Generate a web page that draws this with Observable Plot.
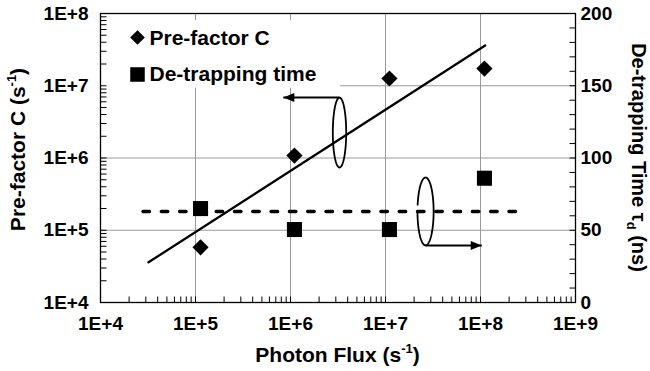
<!DOCTYPE html>
<html>
<head>
<meta charset="utf-8">
<script src="https://cdn.jsdelivr.net/npm/d3@7"></script>
<script src="https://cdn.jsdelivr.net/npm/@observablehq/plot@0.6"></script>
<style>
  html, body { margin: 0; padding: 0; background: #fff; }
</style>
</head>
<body>
<div id="chart"></div>
<script>
// ---------------- data ----------------
const photonFlux   = [1.13e5, 1.1e6, 1.1e7, 1.1e8];     // s^-1
const preFactorC   = [5.8e4, 1.08e6, 1.26e7, 1.73e7];   // s^-1 (left axis)
const detrapTime   = [65, 50.5, 50.5, 86];              // ns (right axis)

const fitFlux      = [3.2e4, 1.12e8];                   // power-law fit of C
const fitC         = [3.6e4, 3.6e7];
const meanFlux     = [2.8e4, 2.8e8];                    // mean de-trapping time
const meanTau      = 63;

const xTicks       = [1e4, 1e5, 1e6, 1e7, 1e8, 1e9];
const xTickLabels  = ["1E+4", "1E+5", "1E+6", "1E+7", "1E+8", "1E+9"];
const yTicks       = [1e4, 1e5, 1e6, 1e7, 1e8];
const yTickLabels  = ["1E+4", "1E+5", "1E+6", "1E+7", "1E+8"];
const tauTicks     = [0, 50, 100, 150, 200];
const tauTickLabels = ["0", "50", "100", "150", "200"];

const legendLabels = ["Pre-factor C", "De-trapping time"];

// right axis (0..200 ns) shares the frame with the left log axis (1E+4..1E+8)
const tauToY = v => Math.pow(10, 4 + v / 50);

// annotation rings (centre in data units, radii in decades) and arrows
const rings = [
  {id: "c", cx: 3.28e6, cy: 2.25e6, rx: 0.0705, ry: 0.484, gapFrom: 0, gapTo: 0},
  {id: "t", cx: 2.64e7, cy: tauToY(meanTau), rx: 0.085, ry: 0.47, gapFrom: Math.PI - 0.2, gapTo: Math.PI + 0.03}
];
const arrows = [
  {ring: 0, side: 1,  toX: 8.4e5,  head: "left"},
  {ring: 1, side: -1, toX: 1.03e8, head: "right"}
];

// ---------------- derived tables ----------------
const points = photonFlux.map((x, i) => ({x, c: preFactorC[i], tau: detrapTime[i]}));
const fit = fitFlux.map((x, i) => ({x, y: fitC[i]}));
const mean = meanFlux.map(x => ({x, y: tauToY(meanTau)}));

const ringPts = [];
rings.forEach(r => {
  const full = r.gapTo === r.gapFrom;
  const t0 = full ? 0 : r.gapTo, t1 = full ? 2 * Math.PI : r.gapFrom + 2 * Math.PI;
  const n = 90;
  for (let i = 0; i <= n; i++) {
    const t = t0 + (t1 - t0) * i / n;
    ringPts.push({id: r.id,
      x: Math.pow(10, Math.log10(r.cx) + r.rx * Math.cos(t)),
      y: Math.pow(10, Math.log10(r.cy) + r.ry * Math.sin(t))});
  }
});
const arrowLinks = arrows.map(a => {
  const r = rings[a.ring];
  const y = Math.pow(10, Math.log10(r.cy) + a.side * r.ry);
  return {x1: r.cx, x2: a.toX, y, head: a.head};
});

const xMinor = d3.scaleLog().domain([1e4, 1e9]).ticks();
const yMinor = d3.scaleLog().domain([1e4, 1e8]).ticks();
const tauMinor = d3.range(0, 201, 10);

// custom symbols (pixel-sized)
const tickUp    = {draw(ctx) { ctx.moveTo(0, 0); ctx.lineTo(0, -6); }};
const tickRight = {draw(ctx) { ctx.moveTo(0, 0); ctx.lineTo(6, 0); }};
const tickLeft  = {draw(ctx) { ctx.moveTo(0, 0); ctx.lineTo(-6, 0); }};
const headLeft  = {draw(ctx) { ctx.moveTo(0, 0); ctx.lineTo(11, -4.5); ctx.lineTo(11, 4.5); ctx.closePath(); }};
const headRight = {draw(ctx) { ctx.moveTo(0, 0); ctx.lineTo(-11, -4.5); ctx.lineTo(-11, 4.5); ctx.closePath(); }};

const FONT = "'Liberation Sans', Arial, Helvetica, sans-serif";
const GRID = "#9a9a9a";

const chart = Plot.plot({
  width: 650,
  height: 371,
  marginLeft: 100,
  marginRight: 75,
  marginTop: 13,
  marginBottom: 69,
  style: {fontFamily: FONT, background: "#fff", color: "#000"},
  x: {type: "log", domain: [1e4, 1e9], axis: null},
  y: {type: "log", domain: [1e4, 1e8], axis: null},
  marks: [
    // grid
    Plot.ruleX(xTicks.slice(1, -1), {stroke: GRID, strokeWidth: 1}),
    Plot.ruleY(yTicks.slice(1, -1), {stroke: GRID, strokeWidth: 1}),
    // legend background
    Plot.rect([{x1: 1.03e4, x2: 3.36e6, y1: 9.2e6, y2: 8.0e7}], {x1: "x1", x2: "x2", y1: "y1", y2: "y2", fill: "#fff"}),
    // fit lines
    Plot.line(mean, {x: "x", y: "y", stroke: "#000", strokeWidth: 3.4, strokeDasharray: "6.5,11.8"}),
    // annotation rings + arrows
    Plot.line(ringPts, {x: "x", y: "y", z: "id", stroke: "#000", strokeWidth: 1.8, curve: "linear"}),
    Plot.line(fit, {x: "x", y: "y", stroke: "#000", strokeWidth: 2.3}),
    Plot.link(arrowLinks, {x1: "x1", x2: "x2", y1: "y", y2: "y", stroke: "#000", strokeWidth: 2}),
    Plot.dot(arrowLinks, {x: "x2", y: "y", symbol: d => d.head === "left" ? headLeft : headRight, r: 5, fill: "#000", stroke: "none"}),
    // data
    Plot.dot(points, {x: "x", y: "c", symbol: "diamond2", r: 7.3, fill: "#000"}),
    Plot.dot(points, {x: "x", y: d => tauToY(d.tau), symbol: "square", r: 8.5, fill: "#000"}),
    // frame
    Plot.frame({stroke: "#000", strokeWidth: 1.3}),
    // ticks
    Plot.dot(xMinor, {x: d => d, frameAnchor: "bottom", symbol: tickUp, r: 3, stroke: "#000", fill: "none", strokeWidth: 1}),
    Plot.dot(yMinor, {y: d => d, frameAnchor: "left", symbol: tickRight, r: 3, stroke: "#000", fill: "none", strokeWidth: 1}),
    Plot.dot(tauMinor, {y: d => tauToY(d), frameAnchor: "right", symbol: tickLeft, r: 3, stroke: "#000", fill: "none", strokeWidth: 1}),
    // tick labels
    Plot.text(xTicks, {x: d => d, text: (d, i) => xTickLabels[i], frameAnchor: "bottom", dy: 21, fontSize: 19, fontWeight: "bold", fill: "#000", lineAnchor: "middle"}),
    Plot.text(yTicks, {y: d => d, text: (d, i) => yTickLabels[i], frameAnchor: "left", dx: -12, textAnchor: "end", fontSize: 19, fontWeight: "bold", fill: "#000", lineAnchor: "middle"}),
    Plot.text(tauTicks, {y: d => tauToY(d), text: (d, i) => tauTickLabels[i], frameAnchor: "right", dx: 5, textAnchor: "start", fontSize: 19, fontWeight: "bold", fill: "#000", lineAnchor: "middle"}),
    // legend
    Plot.dot([0], {frameAnchor: "top-left", dx: 37, dy: 24, symbol: "diamond2", r: 6.6, fill: "#000"}),
    Plot.dot([0], {frameAnchor: "top-left", dx: 37, dy: 61, symbol: "square", r: 8.2, fill: "#000"}),
    Plot.text([legendLabels[0]], {frameAnchor: "top-left", dx: 49, dy: 25, text: d => d, textAnchor: "start", fontSize: 21, fontWeight: "bold", fill: "#000", lineAnchor: "middle"}),
    Plot.text([legendLabels[1]], {frameAnchor: "top-left", dx: 49, dy: 61, text: d => d, textAnchor: "start", fontSize: 21, fontWeight: "bold", fill: "#000", lineAnchor: "middle"})
  ]
});

document.getElementById("chart").appendChild(chart);

// axis titles with super/subscripts
const xs = chart.scale("x").range, ys = chart.scale("y").range;
const cx = (xs[0] + xs[1]) / 2, cy = (ys[0] + ys[1]) / 2;
const svg = d3.select(chart);
const g = svg.append("g").attr("font-family", FONT).attr("font-weight", "bold").attr("fill", "#000");

const xt = g.append("text").attr("x", cx).attr("y", 362).attr("text-anchor", "middle").attr("font-size", 21);
xt.append("tspan").text("Photon Flux (s");
xt.append("tspan").attr("font-size", 13).attr("dy", -9).text("-1");
xt.append("tspan").attr("dy", 9).text(")");

const yl = g.append("text").attr("transform", `translate(25,${cy - 8}) rotate(-90)`).attr("text-anchor", "middle").attr("font-size", 21);
yl.append("tspan").text("Pre-factor C (s");
yl.append("tspan").attr("font-size", 13).attr("dy", -9).text("-1");
yl.append("tspan").attr("dy", 9).text(")");

const yr = g.append("text").attr("transform", `translate(632,${cy}) rotate(90)`).attr("text-anchor", "middle").attr("font-size", 20);
yr.append("tspan").text("De-trapping Time \u03C4");
yr.append("tspan").attr("font-size", 13).attr("dy", 5).text("d");
yr.append("tspan").attr("dy", -5).text(" (ns)");
</script>
</body>
</html>
